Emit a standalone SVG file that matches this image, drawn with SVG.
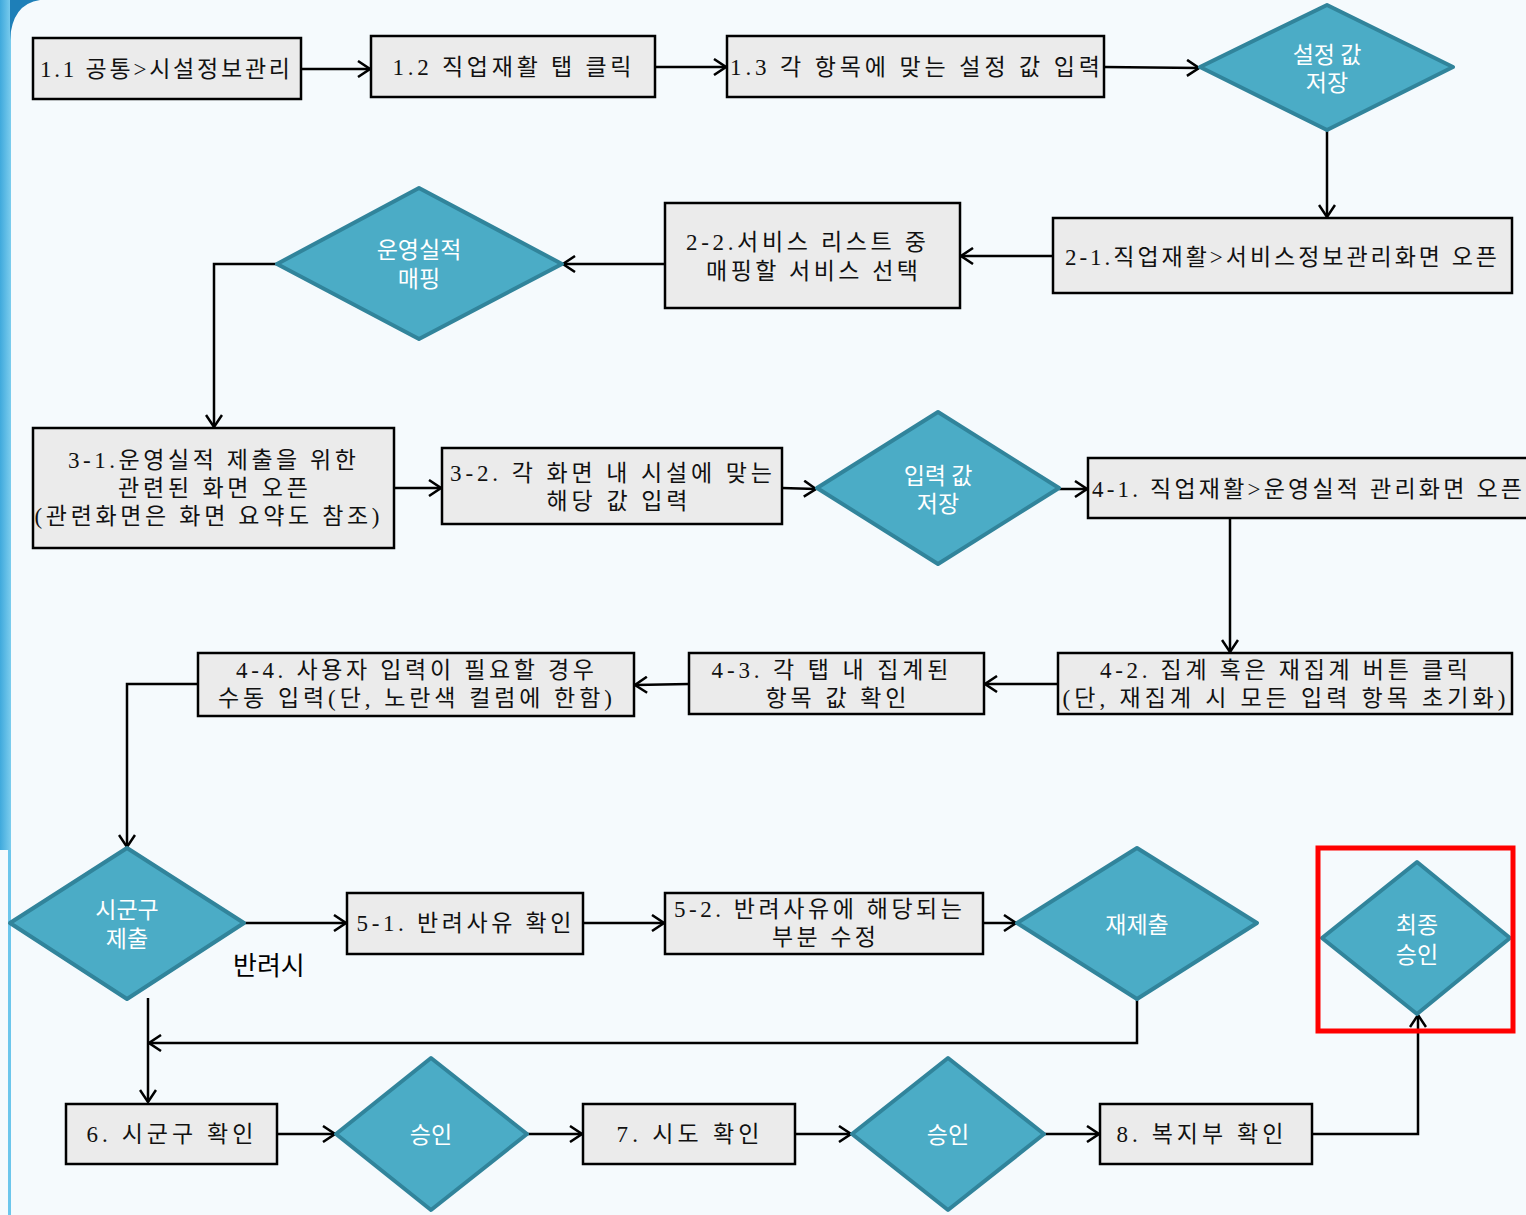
<svg xmlns="http://www.w3.org/2000/svg" width="1526" height="1215" viewBox="0 0 1526 1215">
<defs>
<linearGradient id="edge" x1="0" y1="0" x2="1" y2="0">
<stop offset="0" stop-color="#3FA9DC"/>
<stop offset="1" stop-color="#7CCDEE"/>
</linearGradient>
<marker id="ah" markerWidth="16" markerHeight="18" refX="14" refY="9" orient="auto" markerUnits="userSpaceOnUse">
<path d="M2,1 L14,9 L2,17" fill="none" stroke="#000" stroke-width="2.5"/>
</marker>
<style>
.box{fill:#EBEBEB;stroke:#000;stroke-width:2.5}
.dia{fill:#4BACC6;stroke:#31849B;stroke-width:4;stroke-linejoin:round}
.bt{font-family:"Liberation Serif","Noto Sans CJK KR",serif;font-size:23px;fill:#111;text-anchor:middle}
.dt{font-family:"Noto Sans CJK KR","Noto Sans",sans-serif;font-size:23px;fill:#fff;text-anchor:middle}
.lab{font-family:"Noto Sans CJK KR","Noto Sans",sans-serif;font-size:26px;fill:#000}
.con{fill:none;stroke:#000;stroke-width:2.5}
.arr{marker-end:url(#ah)}
</style>
</defs>
<rect x="0" y="0" width="1526" height="1215" fill="#F5FAFD"/>
<rect x="0" y="0" width="11" height="850" fill="url(#edge)"/>
<path d="M0,0 H40 Q12,4 10,40 V0 Z" fill="#1E7FB8"/>
<rect x="8" y="850" width="3" height="365" fill="#6CC6EC"/>

<g id="connectors">
<line class="con arr" x1="301" y1="69" x2="370" y2="69"/>
<line class="con arr" x1="655" y1="67" x2="726" y2="67"/>
<line class="con arr" x1="1104" y1="67" x2="1199" y2="68"/>
<line class="con arr" x1="1327" y1="130" x2="1327" y2="217"/>
<line class="con arr" x1="1053" y1="256" x2="961" y2="256"/>
<line class="con arr" x1="665" y1="264" x2="563" y2="264"/>
<polyline class="con arr" points="277,264 214,264 214,427"/>
<line class="con arr" x1="394" y1="488" x2="441" y2="488"/>
<line class="con arr" x1="782" y1="488" x2="816" y2="489"/>
<line class="con arr" x1="1059" y1="489" x2="1087" y2="489"/>
<line class="con arr" x1="1230" y1="518" x2="1230" y2="652"/>
<line class="con arr" x1="1058" y1="684" x2="985" y2="684"/>
<line class="con arr" x1="689" y1="684" x2="635" y2="685"/>
<polyline class="con arr" points="198,684 127,684 127,847"/>
<line class="con arr" x1="244" y1="923" x2="346" y2="923"/>
<line class="con arr" x1="583" y1="923" x2="664" y2="923"/>
<line class="con arr" x1="983" y1="923" x2="1016" y2="923"/>
<polyline class="con arr" points="1137,999 1137,1043 149,1043"/>
<line class="con arr" x1="148" y1="998" x2="148" y2="1102"/>
<line class="con arr" x1="277" y1="1134" x2="335" y2="1134"/>
<line class="con arr" x1="527" y1="1134" x2="582" y2="1134"/>
<line class="con arr" x1="795" y1="1134" x2="851" y2="1134"/>
<line class="con arr" x1="1044" y1="1134" x2="1099" y2="1134"/>
<polyline class="con arr" points="1312,1134 1418,1134 1418,1015"/>
</g>

<g id="n11"><rect class="box" x="33" y="38" width="268" height="61"/><text class="bt" x="165" y="77" textLength="250" lengthAdjust="spacing">1.1 공통&gt;시설정보관리</text></g>
<g id="n12"><rect class="box" x="371" y="36" width="284" height="61"/><text class="bt" x="512" y="75" textLength="239" lengthAdjust="spacing">1.2 직업재활 탭 클릭</text></g>
<g id="n13"><rect class="box" x="727" y="36" width="377" height="61"/><text class="bt" x="915" y="75" textLength="370" lengthAdjust="spacing">1.3 각 항목에 맞는 설정 값 입력</text></g>
<g id="d1"><polygon class="dia" points="1327,5 1453,67 1327,130 1200,67"/><text class="dt" x="1327" y="63">설정 값<tspan x="1327" dy="28">저장</tspan></text></g>
<g id="n21"><rect class="box" x="1053" y="218" width="459" height="75"/><text class="bt" x="1281" y="265" textLength="432" lengthAdjust="spacing">2-1.직업재활&gt;서비스정보관리화면 오픈</text></g>
<g id="n22"><rect class="box" x="665" y="203" width="295" height="105"/><text class="bt" x="806" y="250" textLength="240" lengthAdjust="spacing">2-2.서비스 리스트 중</text><text class="bt" x="812" y="279" textLength="212" lengthAdjust="spacing">매핑할 서비스 선택</text></g>
<g id="d2"><polygon class="dia" points="419,188 562,264 419,339 277,264"/><text class="dt" x="419" y="258">운영실적<tspan x="419" dy="29">매핑</tspan></text></g>
<g id="n31"><rect class="box" x="33" y="428" width="361" height="120"/><text class="bt" x="212" y="468" textLength="288" lengthAdjust="spacing">3-1.운영실적 제출을 위한</text><text class="bt" x="213" y="496" textLength="190" lengthAdjust="spacing">관련된 화면 오픈</text><text class="bt" x="207" y="524" textLength="345" lengthAdjust="spacing">(관련화면은 화면 요약도 참조)</text></g>
<g id="n32"><rect class="box" x="442" y="448" width="340" height="76"/><text class="bt" x="611" y="481" textLength="322" lengthAdjust="spacing">3-2. 각 화면 내 시설에 맞는</text><text class="bt" x="617" y="509" textLength="141" lengthAdjust="spacing">해당 값 입력</text></g>
<g id="d3"><polygon class="dia" points="938,412 1059,488 938,564 817,488"/><text class="dt" x="938" y="484">입력 값<tspan x="938" dy="28">저장</tspan></text></g>
<g id="n41"><rect class="box" x="1088" y="458" width="445" height="60"/><text class="bt" x="1307" y="497" textLength="430" lengthAdjust="spacing">4-1. 직업재활&gt;운영실적 관리화면 오픈</text></g>
<g id="n42"><rect class="box" x="1058" y="653" width="454" height="61"/><text class="bt" x="1284" y="678" textLength="368" lengthAdjust="spacing">4-2. 집계 혹은 재집계 버튼 클릭</text><text class="bt" x="1284" y="706" textLength="443" lengthAdjust="spacing">(단, 재집계 시 모든 입력 항목 초기화)</text></g>
<g id="n43"><rect class="box" x="689" y="653" width="295" height="61"/><text class="bt" x="830" y="678" textLength="237" lengthAdjust="spacing">4-3. 각 탭 내 집계된</text><text class="bt" x="836" y="706" textLength="141" lengthAdjust="spacing">항목 값 확인</text></g>
<g id="n44"><rect class="box" x="198" y="653" width="436" height="63"/><text class="bt" x="415" y="678" textLength="358" lengthAdjust="spacing">4-4. 사용자 입력이 필요할 경우</text><text class="bt" x="415" y="706" textLength="394" lengthAdjust="spacing">수동 입력(단, 노란색 컬럼에 한함)</text></g>
<g id="d4"><polygon class="dia" points="127,848 244,923 127,999 10,923"/><text class="dt" x="127" y="918">시군구<tspan x="127" dy="29">제출</tspan></text></g>
<g id="lab1"><text class="lab" x="233" y="975">반려시</text></g>
<g id="n51"><rect class="box" x="347" y="893" width="236" height="61"/><text class="bt" x="464" y="931" textLength="215" lengthAdjust="spacing">5-1. 반려사유 확인</text></g>
<g id="n52"><rect class="box" x="665" y="893" width="318" height="61"/><text class="bt" x="818" y="917" textLength="288" lengthAdjust="spacing">5-2. 반려사유에 해당되는</text><text class="bt" x="824" y="945" textLength="104" lengthAdjust="spacing">부분 수정</text></g>
<g id="d5"><polygon class="dia" points="1137,848 1257,923 1137,999 1017,923"/><text class="dt" x="1137" y="933">재제출</text></g>
<g id="n6"><rect class="box" x="66" y="1104" width="211" height="60"/><text class="bt" x="170" y="1142" textLength="167" lengthAdjust="spacing">6. 시군구 확인</text></g>
<g id="d6"><polygon class="dia" points="431,1058 527,1134 431,1210 336,1134"/><text class="dt" x="431" y="1143">승인</text></g>
<g id="n7"><rect class="box" x="583" y="1104" width="212" height="60"/><text class="bt" x="688" y="1142" textLength="143" lengthAdjust="spacing">7. 시도 확인</text></g>
<g id="d7"><polygon class="dia" points="948,1058 1044,1134 948,1210 852,1134"/><text class="dt" x="948" y="1143">승인</text></g>
<g id="n8"><rect class="box" x="1100" y="1104" width="212" height="60"/><text class="bt" x="1200" y="1142" textLength="167" lengthAdjust="spacing">8. 복지부 확인</text></g>
<g id="d8"><polygon class="dia" points="1417,862 1510,938 1417,1014 1322,938"/><text class="dt" x="1417" y="933">최종<tspan x="1417" dy="30">승인</tspan></text></g>
<g id="hl"><rect x="1318" y="848" width="195" height="183" fill="none" stroke="#FF0000" stroke-width="5"/></g>
</svg>
